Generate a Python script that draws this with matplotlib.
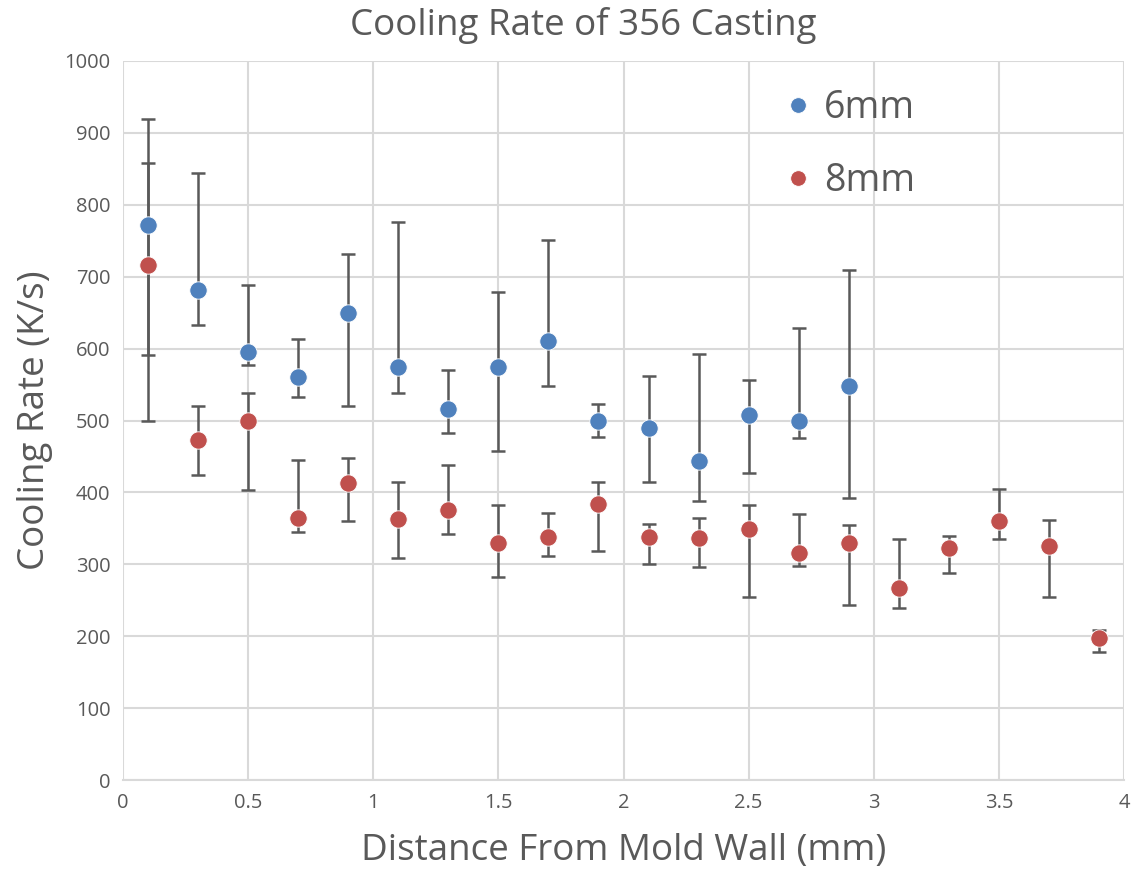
import numpy as np
import matplotlib.pyplot as plt

# 6mm casting
x_6 = [0.1, 0.3, 0.5, 0.7, 0.9, 1.1, 1.3, 1.5, 1.7, 1.9, 2.1, 2.3, 2.5, 2.7, 2.9]
y_6 = [772, 682, 595, 561, 650, 574, 516, 575, 610, 499, 489, 443, 508, 499, 548]
hi_6 = [920, 844, 688, 614, 732, 776, 570, 679, 751, 523, 562, 592, 557, 629, 709]
lo_6 = [591, 633, 577, 532, 520, 538, 482, 458, 548, 477, 415, 388, 427, 476, 392]

# 8mm casting
x_8 = [0.1, 0.3, 0.5, 0.7, 0.9, 1.1, 1.3, 1.5, 1.7, 1.9,
	2.1, 2.3, 2.5, 2.7, 2.9, 3.1, 3.3, 3.5, 3.7, 3.9]
y_8 = [716, 473, 499, 364, 413, 363, 376, 329, 338, 384,
	338, 336, 349, 316, 329, 267, 322, 360, 325, 198]
hi_8 = [858, 520, 538, 445, 448, 415, 438, 383, 371, 415,
	356, 365, 382, 370, 354, 335, 340, 405, 362, 208]
lo_8 = [500, 424, 404, 345, 360, 309, 342, 283, 311, 319,
	301, 296, 255, 297, 244, 239, 288, 335, 255, 178]

txt = '#595959'
grid_c = '#D9D9D9'
plt.rcParams['font.family'] = ['Open Sans', 'DejaVu Sans']

fig = plt.figure(figsize=(11.38, 8.69), dpi=100)
ax = fig.add_axes([123/1138, 1-780/869, (1124-123)/1138, (780-61)/869])

def series(x, y, hi, lo, color, label):
	y = np.array(y)
	yerr = [y - np.array(lo), np.array(hi) - y]
	ax.errorbar(x, y, yerr=yerr, fmt='none', ecolor='#595959', elinewidth=1.8,
		capsize=5, capthick=1.8, zorder=2)
	ax.plot(x, y, 'o', color=color, markersize=12.5, markeredgecolor='white',
		markeredgewidth=0.6, label=label, zorder=3, linestyle='none')

series(x_6, y_6, hi_6, lo_6, '#4F81BD', '6mm')
series(x_8, y_8, hi_8, lo_8, '#C0504D', '8mm')

ax.set_xlim(0, 4)
ax.set_ylim(0, 1000)
ax.set_xticks(np.arange(0, 4.01, 0.5))
ax.set_xticklabels(['0', '0.5', '1', '1.5', '2', '2.5', '3', '3.5', '4'])
ax.set_yticks(np.arange(0, 1001, 100))
ax.grid(color=grid_c, linewidth=1.5, zorder=0)
ax.set_axisbelow(True)
for s in ['top', 'right', 'left']:
	ax.spines[s].set_visible(False)
ax.spines['bottom'].set_color(grid_c)
ax.spines['bottom'].set_linewidth(1.5)
ax.tick_params(length=0, labelsize=14.5, labelcolor=txt, pad=9)

ax.set_title('Cooling Rate of 356 Casting', fontsize=26.5, color=txt, pad=19, x=0.46)
ax.set_xlabel('Distance From Mold Wall (mm)', fontsize=26.5, color=txt, labelpad=15)
ax.set_ylabel('Cooling Rate (K/s)', fontsize=26.5, color=txt, labelpad=8)

leg = ax.legend(loc='upper left', bbox_to_anchor=((738-123)/1001, (780-55)/719),
	frameon=False, fontsize=27, markerscale=0.9, handletextpad=0.0,
	labelspacing=0.95, handlelength=1.4)
for t in leg.get_texts():
	t.set_color(txt)

plt.savefig('out.png', dpi=100)
